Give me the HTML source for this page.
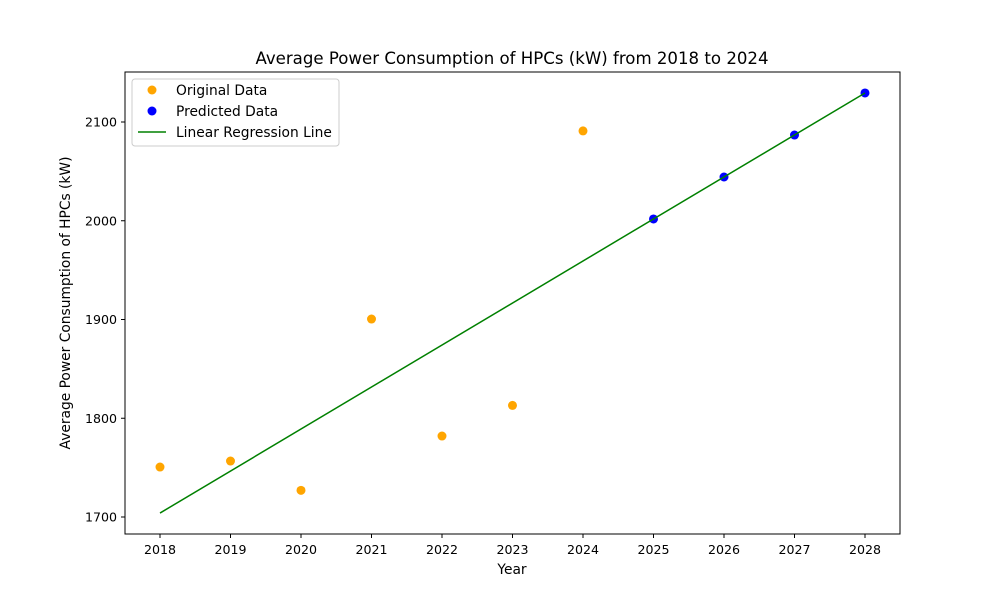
<!DOCTYPE html>
<html><head><meta charset="utf-8"><style>
body{margin:0;background:#fff;}
svg text{font-family:"DejaVu Sans","Liberation Sans",sans-serif;fill:#000;}
</style></head><body>
<svg id="chart" width="1000" height="600" xmlns="http://www.w3.org/2000/svg">
<rect width="1000" height="600" fill="#fff"/>
<text x="512" y="64" font-size="16.6" text-anchor="middle">Average Power Consumption of HPCs (kW) from 2018 to 2024</text>
<text x="512" y="574" font-size="13.8" text-anchor="middle">Year</text>
<text transform="translate(70,303) rotate(-90)" font-size="13.8" text-anchor="middle">Average Power Consumption of HPCs (kW)</text>
<g id="marks"></g>
<rect x="125" y="72" width="775" height="462" fill="none" stroke="#000" stroke-width="1"/>
<g>
<rect x="132" y="79" width="207" height="67" rx="3" fill="#fff" stroke="#ccc"/>
<circle cx="152" cy="90" r="4.5" fill="orange"/>
<text x="176" y="95" font-size="13.8">Original Data</text>
<circle cx="152" cy="111" r="4.5" fill="blue"/>
<text x="176" y="116" font-size="13.8">Predicted Data</text>
<line x1="138" y1="132" x2="166" y2="132" stroke="green" stroke-width="1.5"/>
<text x="176" y="137" font-size="13.8">Linear Regression Line</text>
</g>
</svg>
<script>
const origYears=[2018,2019,2020,2021,2022,2023,2024];
const origValues=[1750.6,1756.7,1727,1900.5,1782,1813,2091];
const predYears=[2025,2026,2027,2028];
const predValues=[2001.8,2044.3,2086.8,2129.4];
const lineYears=[2018,2028];
const lineValues=[1704,2129.4];
const xTicks=[2018,2019,2020,2021,2022,2023,2024,2025,2026,2027,2028];
const yTicks=[1700,1800,1900,2000,2100];
const NS="http://www.w3.org/2000/svg";
const xS=v=>160+(v-2018)*70.5;
const yS=v=>517-(v-1700)*0.9875;
const g=document.getElementById('marks');
function mk(t,a){const e=document.createElementNS(NS,t);for(const k in a)e.setAttribute(k,a[k]);g.appendChild(e);return e;}
xTicks.forEach(t=>{
 const l=mk('line',{x1:xS(t),x2:xS(t),y1:534,y2:538,stroke:'#000'});
 
 
 const tx=mk('text',{x:xS(t),y:554,'font-size':12.6,'text-anchor':'middle'});tx.textContent=t;
 
 
});
yTicks.forEach(t=>{
 const l=mk('line',{x1:121,x2:125,y1:yS(t),y2:yS(t),stroke:'#000'});
 
 
 const tx=mk('text',{x:117,y:yS(t)+4.5,'font-size':12.6,'text-anchor':'end'});tx.textContent=t;
 
 
});
origYears.forEach((y,i)=>{
 const c=mk('circle',{cx:xS(y),cy:yS(origValues[i]),r:4.5,fill:'orange'});
 
 
});
predYears.forEach((y,i)=>{
 const c=mk('circle',{cx:xS(y),cy:yS(predValues[i]),r:4.5,fill:'blue'});
 
 
});
const ln=mk('polyline',{points:lineYears.map((y,i)=>xS(y)+','+yS(lineValues[i])).join(' '),fill:'none',stroke:'green','stroke-width':1.5});


</script>
</body></html>
